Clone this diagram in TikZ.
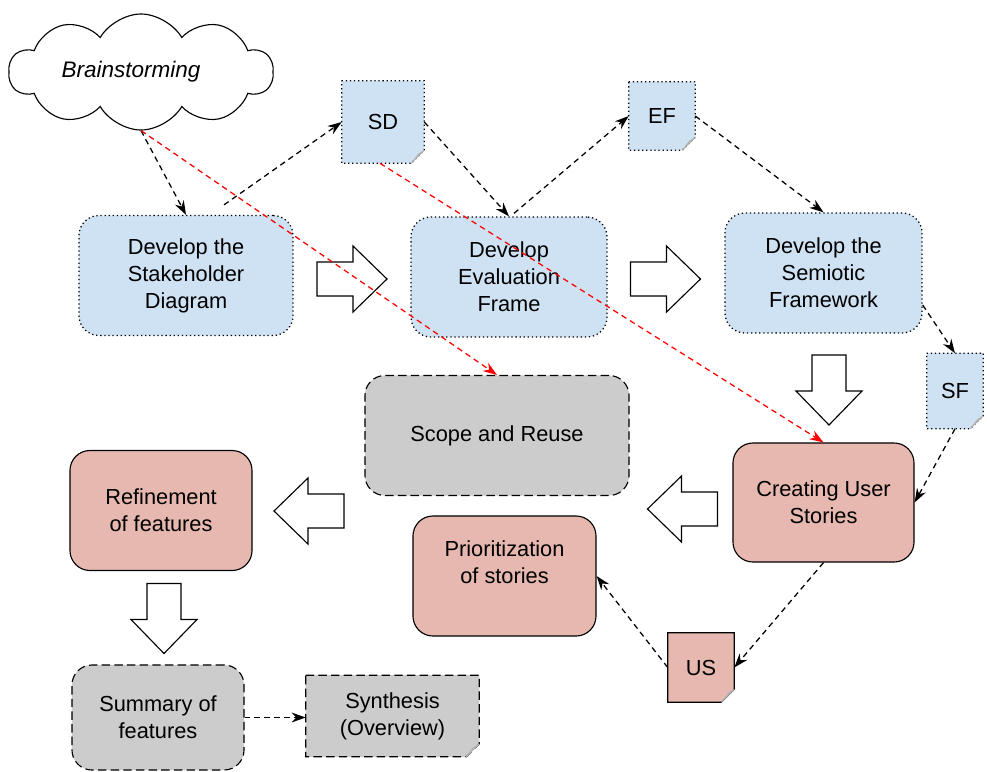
\documentclass[tikz,border=0pt]{standalone}
\usepackage{fontspec}
\setmainfont{Liberation Sans}
\usetikzlibrary{arrows.meta,calc,shapes.symbols}
\pgfdeclarelayer{background}
\pgfsetlayers{background,main}
\definecolor{stepblue}{HTML}{CFE2F3}
\definecolor{storypink}{HTML}{E6B8AF}
\definecolor{scopegray}{HTML}{CCCCCC}
\tikzset{font=\fontsize{15.5}{19.2}\selectfont}
\tikzset{
  devbox/.style={draw, line width=0.9pt, dotted, fill=stepblue, rounded corners=0.5cm,
    align=center, minimum width=5.35cm, minimum height=3cm},
  storybox/.style={draw, line width=0.8pt, fill=storypink, rounded corners=0.5cm,
    align=center, minimum width=4.55cm, minimum height=3cm},
  scopebox/.style={draw, line width=0.8pt, dash pattern=on 6pt off 3pt, fill=scopegray,
    rounded corners=0.5cm, align=center, minimum width=6.6cm, minimum height=3cm},
  page/.style={align=center, inner sep=0pt},
  fatarrow/.style={draw, line width=0.8pt, fill=white},
  conn/.style={line width=0.9pt, dash pattern=on 4pt off 3pt, -{Stealth[length=10pt,width=7pt]}},
}
% sheet with folded corner, drawn behind the node #1
\newcommand{\foldpage}[2]{%
  \draw[#2] (#1.north west) -- (#1.north east) -- ($(#1.south east)+(0,-13)$)
    -- ($(#1.south east)+(-13,0)$) -- (#1.south west) -- cycle;
  \filldraw[gray!60, line width=0.5pt] ($(#1.south east)+(-13,0)$) -- ($(#1.south east)+(0,-13)$)
    -- ($(#1.south east)+(-6,-9)$) -- cycle;
}
% hollow block arrow at #1, turned by #2
\newcommand{\bigarrow}[2]{%
  \draw[fatarrow, shift={(#1)}, rotate=#2] (-35,-17) -- (1,-17) -- (1,-33) -- (35,0)
    -- (1,33) -- (1,17) -- (-35,17) -- cycle;
}

\begin{document}
\begin{tikzpicture}[x=0.025cm, y=-0.025cm]
  \useasboundingbox (0,0) rectangle (987,771);

  \node[cloud, draw, line width=0.8pt, cloud puffs=10, cloud puff arc=120, cloud ignores aspect,
    minimum width=6.6cm, minimum height=2.9cm, inner sep=0pt,
    font=\fontsize{16}{19.2}\selectfont\itshape] (bs) at (141,72) {Brainstorming\hspace*{0.5cm}\null};

  % the three steps
  \node[devbox] (stake) at (186,275.5) {Develop the\\Stakeholder\\Diagram};
  \node[devbox, minimum width=4.9cm] (eval) at (509,277) {Develop\\Evaluation\\Frame};
  \node[devbox, minimum width=4.925cm] (sem) at (823.5,273) {Develop the\\Semiotic\\Framework};

  \node[scopebox] (scope) at (497,435.5) {Scope and Reuse};
  \node[storybox] (refine) at (161,510.5) {Refinement\\of features};
  \node[storybox, minimum width=4.525cm, minimum height=2.975cm] (cus) at (823.5,502.5) {Creating User\\Stories};
  \node[storybox, minimum width=4.575cm] (prio) at (504.5,576) {Prioritization\\of stories\\~};
  \node[scopebox, minimum width=4.3cm, minimum height=2.625cm] (sum) at (158,717.5) {Summary of\\features};

  % documents
  \node[page, minimum width=2.05cm, minimum height=2.05cm] (sd) at (383,122) {SD};
  \node[page, minimum width=1.65cm, minimum height=1.7cm] (ef) at (662,116) {EF};
  \node[page, minimum width=1.4cm, minimum height=1.875cm] (sf) at (955,391) {SF};
  \node[page, minimum width=1.65cm, minimum height=1.725cm] (us) at (701,667.5) {US};
  \node[page, minimum width=4.325cm, minimum height=2.025cm] (syn) at (392.5,716) {Synthesis\\(Overview)};
  \begin{pgfonlayer}{background}
    \foldpage{sd}{line width=0.9pt, dotted, fill=stepblue}
    \foldpage{ef}{line width=0.9pt, dotted, fill=stepblue}
    \foldpage{sf}{line width=0.9pt, dotted, fill=stepblue}
    \foldpage{us}{line width=0.8pt, fill=storypink}
    \foldpage{syn}{line width=0.8pt, dash pattern=on 6pt off 3pt, fill=scopegray}
  \end{pgfonlayer}

  \bigarrow{352,279}{0}
  \bigarrow{665.5,279}{0}
  \bigarrow{829,390}{-90}
  \bigarrow{682.5,509}{180}
  \bigarrow{309,511}{180}
  \bigarrow{164,618.5}{-90}

  \draw[conn] (bs.south) -- (stake.north);
  \draw[conn] ($(stake.north)+(38,-10)$) -- (sd.west);
  \draw[conn] (sd.east) -- (eval.north);
  \draw[conn] ($(eval.north)+(5,-3)$) -- (ef.west);
  \draw[conn] (ef.east) -- (sem.north);
  \draw[conn] ($(sem.east)+(0,32)$) -- (sf.north);
  \draw[conn] (sf.south) -- (cus.east);
  \draw[conn] (cus.south) -- (us.east);
  \draw[conn] (us.west) -- (prio.east);
  \draw[conn] (sum.east) -- (sum.east -| syn.west);
  \draw[conn, red] (bs.south) -- (scope.north);
  \draw[conn, red] ($(sd.south)+(-3,0)$) -- (cus.north);
\end{tikzpicture}
\end{document}
